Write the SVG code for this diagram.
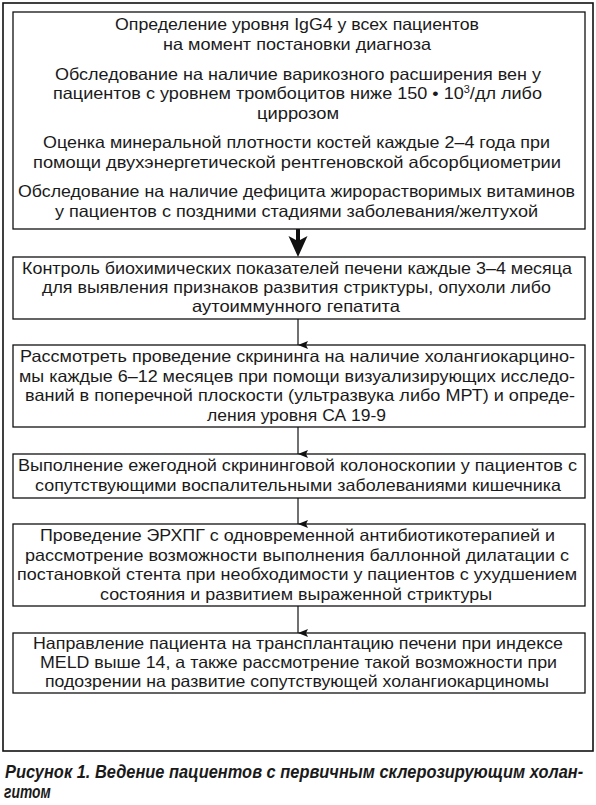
<svg xmlns="http://www.w3.org/2000/svg" width="596" height="805" viewBox="0 0 596 805">
<style>
.frame{fill:none;stroke:#111;stroke-width:1.6}
.box{fill:#fff;stroke:#111;stroke-width:1.3}
.t{font-family:"Liberation Sans",Arial,sans-serif;font-size:16.5px;fill:#1a1a1a}
.cap{font-family:"Liberation Sans",Arial,sans-serif;font-size:17.5px;font-weight:bold;font-style:italic;fill:#1a1a1a}
.conn{stroke:#111;stroke-width:1.2;fill:none}
</style>
<defs>
<marker id="ah" markerUnits="userSpaceOnUse" markerWidth="10" markerHeight="12" refX="5" refY="10" orient="auto-start-reverse" viewBox="0 0 10 12">
<path d="M1,0 L5,2 L9,0 L5,10 Z" fill="#111"/>
</marker>
</defs>
<rect x="0" y="0" width="596" height="805" fill="#fff"/>
<rect class="frame" x="3" y="3" width="590" height="748"/>

<g id="node1">
<rect class="box" x="13" y="12" width="572" height="217"/>
<text class="t" x="115" y="30" textLength="364" lengthAdjust="spacingAndGlyphs">Определение уровня IgG4 у всех пациентов</text>
<text class="t" x="163" y="50" textLength="268" lengthAdjust="spacingAndGlyphs">на момент постановки диагноза</text>
<text class="t" x="55" y="79.5" textLength="486" lengthAdjust="spacingAndGlyphs">Обследование на наличие варикозного расширения вен у</text>
<text class="t" x="53" y="99" textLength="489" lengthAdjust="spacingAndGlyphs">пациентов с уровнем тромбоцитов ниже 150 • 10<tspan font-size="10" dy="-6">3</tspan><tspan dy="6">/дл либо</tspan></text>
<text class="t" x="257" y="118.5" textLength="82" lengthAdjust="spacingAndGlyphs">циррозом</text>
<text class="t" x="43" y="148" textLength="507" lengthAdjust="spacingAndGlyphs">Оценка минеральной плотности костей каждые 2–4 года при</text>
<text class="t" x="33" y="167.5" textLength="528" lengthAdjust="spacingAndGlyphs">помощи двухэнергетической рентгеновской абсорбциометрии</text>
<text class="t" x="18" y="197" textLength="557" lengthAdjust="spacingAndGlyphs">Обследование на наличие дефицита жирорастворимых витаминов</text>
<text class="t" x="55" y="216.5" textLength="483" lengthAdjust="spacingAndGlyphs">у пациентов с поздними стадиями заболевания/желтухой</text>
</g>

<g id="node2">
<rect class="box" x="13" y="257" width="572" height="62"/>
<text class="t" x="22" y="274" textLength="550" lengthAdjust="spacingAndGlyphs">Контроль биохимических показателей печени каждые 3–4 месяца</text>
<text class="t" x="42" y="293" textLength="509" lengthAdjust="spacingAndGlyphs">для выявления признаков развития стриктуры, опухоли либо</text>
<text class="t" x="192" y="312" textLength="208" lengthAdjust="spacingAndGlyphs">аутоиммунного гепатита</text>
</g>

<g id="node3">
<rect class="box" x="13" y="345" width="572" height="82"/>
<text class="t" x="20" y="362" textLength="555" lengthAdjust="spacingAndGlyphs">Рассмотреть проведение скрининга на наличие холангиокарцино-</text>
<text class="t" x="19" y="381.5" textLength="556" lengthAdjust="spacingAndGlyphs">мы каждые 6–12 месяцев при помощи визуализирующих исследо-</text>
<text class="t" x="25" y="401" textLength="550" lengthAdjust="spacingAndGlyphs">ваний в поперечной плоскости (ультразвука либо МРТ) и опреде-</text>
<text class="t" x="207" y="420.5" textLength="179" lengthAdjust="spacingAndGlyphs">ления уровня СА 19-9</text>
</g>

<g id="node4">
<rect class="box" x="13" y="454" width="572" height="44"/>
<text class="t" x="18" y="471" textLength="559" lengthAdjust="spacingAndGlyphs">Выполнение ежегодной скрининговой колоноскопии у пациентов с</text>
<text class="t" x="35" y="490.5" textLength="526" lengthAdjust="spacingAndGlyphs">сопутствующими воспалительными заболеваниями кишечника</text>
</g>

<g id="node5">
<rect class="box" x="13" y="524" width="572" height="82"/>
<text class="t" x="40" y="541" textLength="515" lengthAdjust="spacingAndGlyphs">Проведение ЭРХПГ с одновременной антибиотикотерапией и</text>
<text class="t" x="25" y="560.5" textLength="544" lengthAdjust="spacingAndGlyphs">рассмотрение возможности выполнения баллонной дилатации с</text>
<text class="t" x="17" y="580" textLength="560" lengthAdjust="spacingAndGlyphs">постановкой стента при необходимости у пациентов с ухудшением</text>
<text class="t" x="100" y="599.5" textLength="392" lengthAdjust="spacingAndGlyphs">состояния и развитием выраженной стриктуры</text>
</g>

<g id="node6">
<rect class="box" x="13" y="633" width="572" height="60"/>
<text class="t" x="33" y="649" textLength="530" lengthAdjust="spacingAndGlyphs">Направление пациента на трансплантацию печени при индексе</text>
<text class="t" x="40" y="668" textLength="517" lengthAdjust="spacingAndGlyphs">MELD выше 14, а также рассмотрение такой возможности при</text>
<text class="t" x="45" y="687" textLength="504" lengthAdjust="spacingAndGlyphs">подозрении на развитие сопутствующей холангиокарциномы</text>
</g>

<g id="connectors">
<path d="M296,229 L300,229 L300,240 L307.5,236 L298,257 L288.5,236 L296,240 Z" fill="#111"/>
<line class="conn" x1="298" y1="319" x2="298" y2="345" marker-end="url(#ah)"/>
<line class="conn" x1="298" y1="427" x2="298" y2="454" marker-end="url(#ah)"/>
<line class="conn" x1="298" y1="498" x2="298" y2="524" marker-end="url(#ah)"/>
<line class="conn" x1="298" y1="606" x2="298" y2="633" marker-end="url(#ah)"/>
</g>

<g id="caption">
<g transform="translate(5,0) scale(0.88,1)">
<text class="cap" x="0" y="778" textLength="657" lengthAdjust="spacingAndGlyphs">Рисунок 1. Ведение пациентов с первичным склерозирующим холан-</text>
<text class="cap" x="-1" y="798" textLength="53" lengthAdjust="spacingAndGlyphs">гитом</text>
</g>
</g>
</svg>
